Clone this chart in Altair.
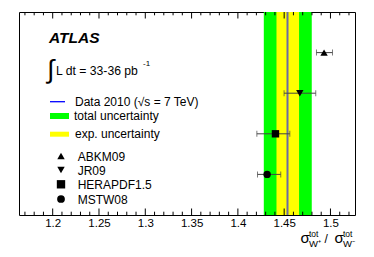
import altair as alt
import pandas as pd

# ---- data ----
pdf_names = ["ABKM09", "JR09", "HERAPDF1.5", "MSTW08"]
pdf_ratio = [1.4931, 1.4669, 1.4406, 1.4316]
pdf_err_lo = [1.4849, 1.4499, 1.4205, 1.4212]
pdf_err_hi = [1.5022, 1.4841, 1.4561, 1.4463]
pdf_row = [4, 3, 2, 1]
pdf_shapes = ["triangle-up", "triangle-down", "square", "circle"]

data_center = [1.4536]
total_lo = [1.4280]
total_hi = [1.4798]
exp_lo = [1.4417]
exp_hi = [1.4661]

major_ticks = [1.2, 1.25, 1.3, 1.35, 1.4, 1.45, 1.5]
minor_ticks = [1.17, 1.18, 1.19, 1.21, 1.22, 1.23, 1.24, 1.26, 1.27, 1.28, 1.29,
               1.31, 1.32, 1.33, 1.34, 1.36, 1.37, 1.38, 1.39, 1.41, 1.42, 1.43,
               1.44, 1.46, 1.47, 1.48, 1.49, 1.51, 1.52]

FONT = "Liberation Sans"
W, H = 336, 203

xscale = alt.Scale(domain=[1.1636, 1.5265], nice=False, zero=False)
yscale = alt.Scale(domain=[0, 5], nice=False, zero=False)
xaxis = alt.Axis(values=major_ticks, format="~g", ticks=False, domain=False, grid=False,
                 labelPadding=2, labelFont=FONT, labelFontSize=11.5, labelColor="black",
                 title=None)

pdf_df = pd.DataFrame({"name": pdf_names, "ratio": pdf_ratio, "lo": pdf_err_lo,
                       "hi": pdf_err_hi, "row": pdf_row})
band_df = pd.DataFrame({"c": data_center, "tlo": total_lo, "thi": total_hi,
                        "elo": exp_lo, "ehi": exp_hi})
one = pd.DataFrame({"a": [0]})

total_band = alt.Chart(band_df).mark_rect(color="#00ff00").encode(
    x=alt.X("tlo:Q", scale=xscale, axis=xaxis), x2="thi:Q",
    y=alt.value(0), y2=alt.value(H))
exp_band = alt.Chart(band_df).mark_rect(color="#ffff00").encode(
    x=alt.X("elo:Q", scale=xscale, axis=xaxis), x2="ehi:Q",
    y=alt.value(0), y2=alt.value(H))
center = alt.Chart(band_df).mark_rule(color="#6a6aa6", strokeWidth=2).encode(
    x=alt.X("c:Q", scale=xscale, axis=xaxis), y=alt.value(0), y2=alt.value(H))

maj_df = pd.DataFrame({"v": major_ticks})
min_df = pd.DataFrame({"v": minor_ticks})
tick_layers = []
for df, ln in ((maj_df, 6.5), (min_df, 3.3)):
    tick_layers.append(alt.Chart(df).mark_rule(color="black", strokeWidth=1).encode(
        x=alt.X("v:Q", scale=xscale, axis=xaxis), y=alt.value(0), y2=alt.value(ln)))
    tick_layers.append(alt.Chart(df).mark_rule(color="black", strokeWidth=1).encode(
        x=alt.X("v:Q", scale=xscale, axis=xaxis), y=alt.value(H), y2=alt.value(H - ln)))

err_line = alt.Chart(pdf_df).mark_rule(color="#444444", strokeWidth=1).encode(
    x=alt.X("lo:Q", scale=xscale, axis=xaxis), x2="hi:Q",
    y=alt.Y("row:Q", scale=yscale, axis=None))
cap_lo = alt.Chart(pdf_df).mark_tick(color="#444444", orient="vertical", size=6, thickness=1).encode(
    x=alt.X("lo:Q", scale=xscale, axis=xaxis), y=alt.Y("row:Q", scale=yscale, axis=None))
cap_hi = alt.Chart(pdf_df).mark_tick(color="#444444", orient="vertical", size=6, thickness=1).encode(
    x=alt.X("hi:Q", scale=xscale, axis=xaxis), y=alt.Y("row:Q", scale=yscale, axis=None))

shape_scale = alt.Scale(domain=pdf_names, range=pdf_shapes)
size_scale = alt.Scale(domain=pdf_names, range=[55, 55, 70, 60])
points = alt.Chart(pdf_df).mark_point(filled=True, color="black", opacity=1, strokeWidth=0).encode(
    x=alt.X("ratio:Q", scale=xscale, axis=xaxis),
    y=alt.Y("row:Q", scale=yscale, axis=None),
    shape=alt.Shape("name:N", scale=shape_scale, legend=None),
    size=alt.Size("name:N", scale=size_scale, legend=None))

# ---- legend / annotations (pixel positions in plot coordinates) ----
def txt(s, x, y, size=12, **kw):
    return alt.Chart(one).mark_text(text=s, align="left", baseline="alphabetic",
                                    font=kw.pop("font", FONT), fontSize=size,
                                    color="black", **kw).encode(x=alt.value(x), y=alt.value(y))

legend = [
    txt("ATLAS", 30, 31, 15.5, fontWeight="bold", fontStyle="italic"),
    txt("\u222b", 28, 66, 26, font="Liberation Sans"),
    txt("L dt = 33-36 pb", 37, 63, 12.2),
    txt("-1", 124, 54, 8),
    alt.Chart(one).mark_rule(color="blue", strokeWidth=1.3).encode(
        x=alt.value(31), x2=alt.value(46), y=alt.value(89.7)),
    txt("Data 2010 (\u221as = 7 TeV)", 56, 94, 12),
    alt.Chart(one).mark_rect(color="#00ff00").encode(
        x=alt.value(31), x2=alt.value(50), y=alt.value(101), y2=alt.value(107)),
    txt("total uncertainty", 55, 108, 12),
    alt.Chart(one).mark_rect(color="#ffff00").encode(
        x=alt.value(31), x2=alt.value(50), y=alt.value(119.7), y2=alt.value(124.7)),
    txt("exp. uncertainty", 56, 125.5, 12),
]
leg_y = [144, 158, 172.3, 187]
leg_size = [55, 55, 70, 60]
for name, shp, yy, sz in zip(pdf_names, pdf_shapes, leg_y, leg_size):
    legend.append(alt.Chart(one).mark_point(filled=True, color="black", opacity=1,
                                            strokeWidth=0, shape=shp, size=sz).encode(
        x=alt.value(42), y=alt.value(yy)))
    legend.append(alt.Chart(one).mark_text(text=name, align="left", baseline="middle",
                                           font=FONT, fontSize=12, color="black").encode(
        x=alt.value(58.7), y=alt.value(yy + 0.5)))

title = [
    txt("\u03c3", 281.5, 230.7, 15),
    txt("tot", 290, 224.7, 8.5),
    txt("W\u207a", 290, 235, 9.5),
    txt("/", 305.5, 230.7, 12),
    txt("\u03c3", 315.5, 230.7, 15),
    txt("tot", 324, 224.7, 8.5),
    txt("W\u207b", 324, 235, 9.5),
]

chart = alt.layer(total_band, exp_band, center, *tick_layers, err_line, cap_lo, cap_hi,
                  points, *legend, *title).properties(
    width=W, height=H,
    autosize=alt.AutoSizeParams(type="none"),
    padding={"left": 11, "top": 4, "right": 11, "bottom": 34},
).configure_view(stroke="black", strokeWidth=1)

chart.save("out.html", embed_options={"renderer": "svg", "actions": False})
